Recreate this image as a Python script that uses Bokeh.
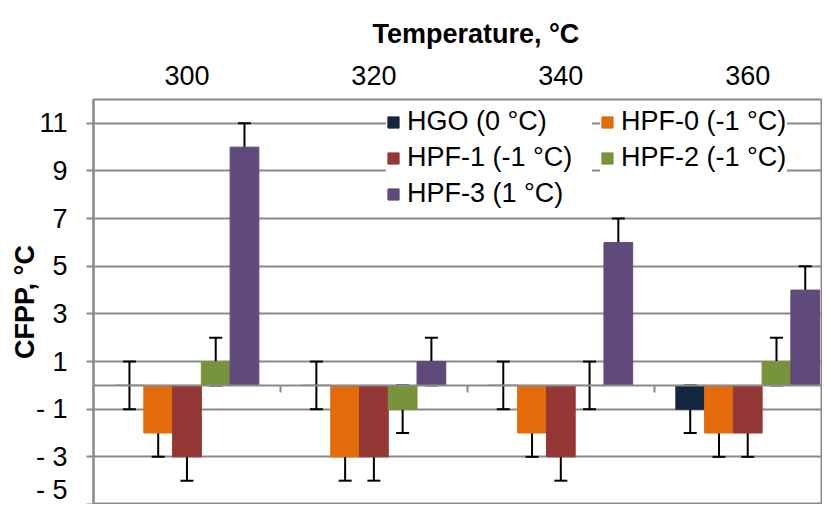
import numpy as np
from bokeh.plotting import figure
from bokeh.models import (ColumnDataSource, Range1d, FixedTicker, LinearAxis,
                          Whisker, TeeHead, Legend, LegendItem)
from bokeh.embed import file_html
from bokeh.resources import INLINE

# ---- data ----
temperatures = ["300", "320", "340", "360"]
series_names = ["HGO (0 °C)", "HPF-0 (-1 °C)", "HPF-1 (-1 °C)", "HPF-2 (-1 °C)", "HPF-3 (1 °C)"]
hgo = [0, 0, 0, -1]
hpf0 = [-2, -3, -2, -2]
hpf1 = [-3, -3, -3, -2]
hpf2 = [1, -1, 0, 1]
hpf3 = [10, 1, 6, 4]
err_hgo = [1, 1, 1, 1]
err_hpf0 = [1, 1, 1, 1]
err_hpf1 = [1, 1, 1, 1]
err_hpf2 = [1, 1, 1, 1]
err_hpf3 = [1, 1, 1, 1]
y_ticks = [-5, -3, -1, 1, 3, 5, 7, 9, 11]
y_tick_labels = ["- 5", "- 3", "- 1", "1", "3", "5", "7", "9", "11"]

colors = ["#13253F", "#E46C0A", "#953735", "#77933C", "#604A7B"]
values = [hgo, hpf0, hpf1, hpf2, hpf3]
errors = [err_hgo, err_hpf0, err_hpf1, err_hpf2, err_hpf3]

FONT = "Liberation Sans"
FS = "27px"
GRID = "#8a8a8a"

n_cat = len(temperatures)
n_ser = len(series_names)
bar_w = 1.0 / (n_ser + 1.5)
centers = np.arange(n_cat) + 0.5

p = figure(width=822, height=504, x_range=Range1d(0, 3.90), y_range=Range1d(-5, 12),
           output_backend="svg", toolbar_location=None, x_axis_location=None,
           min_border_left=93, min_border_right=0, min_border_top=99, min_border_bottom=0,
           title="Temperature, °C")
p.background_fill_color = "white"
p.border_fill_color = "white"
p.outline_line_color = GRID
p.outline_line_width = 2

# title
p.title.text_font = FONT
p.title.text_font_size = FS
p.title.text_font_style = "bold"
p.title.align = "left"
p.title.offset = 279
p.title.standoff = 28
p.title.text_color = "black"

# top category axis
top_axis = LinearAxis(ticker=FixedTicker(ticks=list(centers)),
                      major_label_overrides={float(c): t for c, t in zip(centers, temperatures)})
top_axis.axis_line_color = None
top_axis.major_tick_line_color = None
top_axis.minor_tick_line_color = None
top_axis.major_label_text_font = FONT
top_axis.major_label_text_font_size = FS
top_axis.major_label_text_color = "black"
top_axis.major_label_standoff = 9
p.add_layout(top_axis, "above")

# zero line axis with category boundary ticks pointing down
zero_axis = LinearAxis(fixed_location=0, ticker=FixedTicker(ticks=list(range(1, n_cat))))
zero_axis.axis_line_color = GRID
zero_axis.axis_line_width = 2
zero_axis.major_tick_line_color = GRID
zero_axis.major_tick_line_width = 2
zero_axis.major_tick_out = 0
zero_axis.major_tick_in = 7
zero_axis.minor_tick_line_color = None
zero_axis.major_label_text_font_size = "0px"
zero_axis.major_label_standoff = 0
zero_axis.major_label_overrides = {i: "" for i in range(1, n_cat)}
p.add_layout(zero_axis, "above")

# y axis
p.yaxis.ticker = FixedTicker(ticks=y_ticks)
p.yaxis.major_label_overrides = {t: l for t, l in zip(y_ticks, y_tick_labels)}
p.yaxis.axis_line_color = GRID
p.yaxis.axis_line_width = 2
p.yaxis.major_tick_line_color = GRID
p.yaxis.major_tick_line_width = 2
p.yaxis.major_tick_out = 7
p.yaxis.major_tick_in = 0
p.yaxis.minor_tick_line_color = None
p.yaxis.major_label_text_font = FONT
p.yaxis.major_label_text_font_size = FS
p.yaxis.major_label_text_color = "black"
p.yaxis.major_label_standoff = 19
p.yaxis.axis_label = "CFPP, °C"
p.yaxis.axis_label_text_font = FONT
p.yaxis.axis_label_text_font_size = FS
p.yaxis.axis_label_text_font_style = "bold"
p.yaxis.axis_label_text_color = "black"
p.yaxis.axis_label_standoff = -7

p.xgrid.visible = False
p.ygrid.grid_line_color = GRID
p.ygrid.grid_line_width = 2

renderers = []
for k in range(n_ser):
    off = (k - (n_ser - 1) / 2) * bar_w
    xs = centers + off
    vals = np.array(values[k], dtype=float)
    errs = np.array(errors[k], dtype=float)
    src = ColumnDataSource(dict(x=xs, top=vals, upper=vals + errs, lower=vals - errs))
    r = p.vbar(x="x", top="top", bottom=0, width=bar_w, source=src,
               fill_color=colors[k], line_color=colors[k], line_width=1)
    renderers.append(r)
    w = Whisker(source=src, base="x", upper="upper", lower="lower",
                line_color="black", line_width=2,
                upper_head=TeeHead(size=13, line_color="black", line_width=2),
                lower_head=TeeHead(size=13, line_color="black", line_width=2))
    p.add_layout(w)

def make_legend(idx, loc, lw):
    leg = Legend(items=[LegendItem(label=series_names[i], renderers=[renderers[i]]) for i in idx],
                 location=loc)
    leg.label_text_font = FONT
    leg.label_text_font_size = FS
    leg.label_text_color = "black"
    leg.glyph_width = 14
    leg.glyph_height = 14
    leg.label_standoff = 7
    leg.label_width = lw
    leg.spacing = 5
    leg.padding = 6
    leg.background_fill_color = "white"
    leg.background_fill_alpha = 1
    leg.border_line_color = None
    return leg

p.add_layout(make_legend([0, 2, 4], (293, 295), 185), "center")
p.add_layout(make_legend([1, 3], (507, 331), 166), "center")

open("out.html", "w").write(file_html(p, INLINE))
